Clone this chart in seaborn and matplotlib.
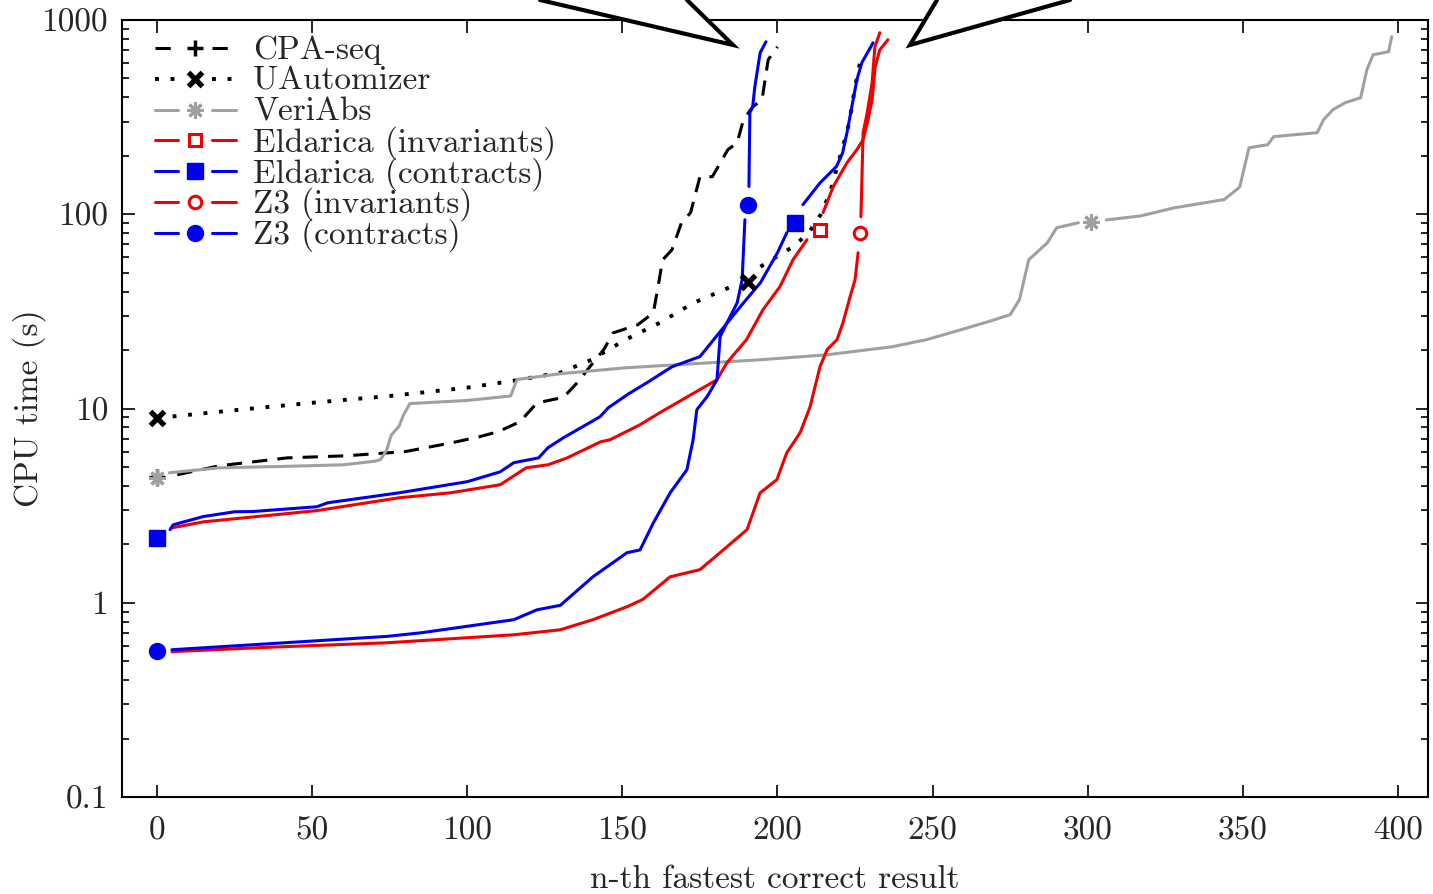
import numpy as np
import matplotlib
matplotlib.use('Agg')
import matplotlib.pyplot as plt
from matplotlib.lines import Line2D
from matplotlib.patches import Polygon
from matplotlib.ticker import FixedLocator, NullFormatter, NullLocator
import seaborn as sns

# n-th fastest correct result / CPU time (s)
cpa_n = [0, 6.5, 20, 42, 61, 80, 95, 104, 110, 117, 122.5, 131, 135.5, 139.5, 144, 147, 155, 160, 161.5, 163,
         166, 169, 172, 175, 179, 184, 187, 189, 192, 195, 197, 200]
cpa_t = [4.45, 4.56, 5.07, 5.57, 5.71, 6.0, 6.66, 7.16, 7.6, 8.55, 10.7, 11.4, 13.6, 16.4, 20.1, 24.5, 27, 31.1, 42.4, 58.3,
         65.7, 90, 102, 156, 156, 215, 233, 306, 357, 388, 624, 728]

uauto_n = [0, 5, 25, 50, 75, 100, 115, 130, 140, 151, 162, 173, 184.5, 190.5, 194.5, 205, 210, 214, 217, 219, 221, 223, 225, 227]
uauto_t = [8.9, 9.1, 9.8, 10.7, 11.6, 12.8, 13.9, 15.3, 17.8, 22.6, 27.6, 35, 42, 45, 53.7, 68, 80, 100, 130, 170, 220, 290, 450, 650]

veri_n = [0, 4, 20, 40, 60, 70, 72, 74, 75.5, 78, 79.5, 81.5, 100, 114, 116, 130, 151, 173, 194, 216, 237,
          248, 259, 268, 275, 278, 281, 287, 290, 297, 301, 306, 317, 328, 344, 349, 352, 358, 360, 374, 376,
          379, 383, 388, 390, 392, 397, 398]
veri_t = [4.4, 4.67, 4.95, 5.03, 5.13, 5.35, 5.45, 6.1, 7.3, 8.1, 9.3, 10.6, 11.0, 11.6, 14.1, 15.1, 16.2, 17.0, 17.8, 18.9, 20.8,
          22.6, 25.4, 28, 30.4, 36.3, 58.3, 71.3, 85.2, 90.4, 91.5, 93.5, 98, 108, 119, 138, 220, 228, 251, 263, 306,
          345, 375, 398, 555, 662, 687, 820]

eld_inv_n = [0, 4.8, 15, 51.5, 78, 94.5, 110.6, 119, 126, 132, 143, 146, 155.7, 162, 171, 180.5, 183.7, 190, 195.3, 200.8, 205,
             209.5, 213.7, 214.7, 218, 222.4, 225.6, 227.6, 229.2, 230.5, 231.5, 233, 235.6]
eld_inv_t = [2.16, 2.43, 2.61, 2.98, 3.47, 3.68, 4.05, 4.95, 5.13, 5.55, 6.74, 6.9, 8.25, 9.5, 11.5, 14.06, 17.2, 22.6, 32.2, 42.4,
             58.3, 73.9, 83.2, 102, 139, 184, 215, 242, 306, 388, 575, 703, 791]

eld_con_n = [0, 4.2, 5.2, 15, 25, 31, 51.5, 55, 78, 100, 110.6, 115, 123, 126, 131, 142.8, 145.5, 152, 158, 166, 175, 182,
             188, 194.5, 200, 203, 205.6, 208.2, 213.7, 219, 221, 222.4, 225.6, 227.2, 230.8]
eld_con_t = [2.16, 2.38, 2.52, 2.78, 2.94, 2.95, 3.12, 3.27, 3.68, 4.2, 4.72, 5.26, 5.57, 6.28, 7.07, 9.07, 10.1, 11.9, 13.6, 16.4,
             18.5, 25.4, 33.4, 44.4, 63.4, 80.3, 90, 112, 145, 176, 207, 263, 493, 603, 763]

z3_inv_n = [0, 4.8, 36, 74, 115, 130, 140.5, 151.5, 156.6, 165.4, 175, 183.7, 190.2, 194.4, 199.8, 203, 207.3, 210.5, 213.7, 216,
            219.2, 221.1, 223.4, 225, 226, 226.6, 226.9, 227.6, 228.8, 230.5, 231.4, 233]
z3_inv_t = [0.566, 0.56, 0.59, 0.622, 0.684, 0.726, 0.818, 0.954, 1.04, 1.36, 1.48, 1.94, 2.38, 3.68, 4.3, 5.92, 7.5, 10.2, 16.4, 20.1,
            22.6, 27.6, 37.6, 46, 63.4, 80.3, 97, 263, 325, 475, 728, 860]

z3_con_n = [0, 4.8, 36, 74, 85, 115, 122.5, 130, 140.5, 151.5, 155.7, 160, 165.4, 170.8, 172.8, 174, 177.3, 180.5, 181.5, 183.7,
            187, 188.6, 189.5, 190.5, 190.8, 191.1, 192, 192.7, 194.4, 196.3]
z3_con_t = [0.566, 0.573, 0.615, 0.671, 0.70, 0.818, 0.92, 0.97, 1.36, 1.81, 1.87, 2.58, 3.68, 4.84, 6.9, 9.86, 11.5, 14.06, 23.4, 27.6,
            35, 46, 93.7, 111, 139, 333, 357, 453, 678, 773]

labels = ['CPA-seq', 'UAutomizer', 'VeriAbs', 'Eldarica (invariants)', 'Eldarica (contracts)',
          'Z3 (invariants)', 'Z3 (contracts)']
y_ticks = [0.1, 1, 10, 100, 1000]
y_ticklabels = ['0.1', '1', '10', '100', '1000']
x_ticks = [0, 50, 100, 150, 200, 250, 300, 350, 400]

RED = '#f00000'
BLUE = '#0000f0'
GRAY = '#a0a0a0'

# n, t, indices with a point symbol, colour, linestyle, width, marker, size, face, edge width
series = [
    (cpa_n, cpa_t, [0], 'black', (0, (5, 3.3)), 2.2, '+', 11, 'black', 2.5),
    (uauto_n, uauto_t, [0, 13], 'black', (0, (1, 3)), 2.8, 'x', 10, 'black', 3.8),
    (veri_n, veri_t, [0, 30], GRAY, '-', 2.2, (8, 2, 0), 12, GRAY, 2.2),
    (eld_inv_n, eld_inv_t, [0, 22], RED, '-', 2.2, 's', 9, 'none', 2.2),
    (eld_con_n, eld_con_t, [0, 26], BLUE, '-', 2.2, 's', 11.5, BLUE, 1),
    (z3_inv_n, z3_inv_t, [0, 25], RED, '-', 2.2, 'o', 9, 'none', 2.2),
    (z3_con_n, z3_con_t, [0, 23], BLUE, '-', 2.2, 'o', 11.5, BLUE, 1),
]

sns.set_style('ticks')
plt.rcParams['font.family'] = ['cmr10', 'DejaVu Serif']
plt.rcParams['axes.formatter.use_mathtext'] = True
plt.rcParams['mathtext.fontset'] = 'cm'
FS = 24

W, H = 1433, 894
L, R, T, B = 122, 1428, 20, 797
fig = plt.figure(figsize=(W / 100, H / 100), dpi=100)
ax = fig.add_axes([L / W, 1 - B / H, (R - L) / W, (B - T) / H])
ax.set_yscale('log')


def axp(x, y):
    # picture pixel -> axes fraction, for the key
    return (x - L) / (R - L), 1 - (y - T) / (B - T)


for i, (n, t, marks, color, ls, lw, marker, ms, mfc, mew) in enumerate(series):
    n = np.asarray(n, dtype=float)
    t = np.asarray(t, dtype=float)
    # the line leaves a gap around each point symbol, as gnuplot does
    start = 0
    parts = []
    for m in marks:
        if m > start:
            parts.append((start, m))
        start = m + 1
    parts.append((start, len(n)))
    for a, b in parts:
        if b - a >= 2:
            sns.lineplot(x=n[a:b], y=t[a:b], ax=ax, color=color, linestyle=ls, linewidth=lw,
                         estimator=None, sort=False, legend=False)
    ax.plot(n[marks], t[marks], linestyle='none', marker=marker, ms=ms, mfc=mfc, mec=color,
            mew=mew, clip_on=False, zorder=3)

    # key entry: line - symbol - line, then the label
    row = 48 + 30.8 * i
    for x0, x1 in ((155, 178), (212, 236)):
        p0, p1 = axp(x0, row), axp(x1, row)
        ax.plot([p0[0], p1[0]], [p0[1], p1[1]], transform=ax.transAxes, color=color,
                linestyle=ls, linewidth=lw, clip_on=False)
    mx, my = axp(195, row)
    ax.plot([mx], [my], transform=ax.transAxes, linestyle='none', marker=marker, ms=ms, mfc=mfc,
            mec=color, mew=mew, clip_on=False)
    tx, ty = axp(253, row + 11)
    ax.text(tx, ty, labels[i], transform=ax.transAxes, fontsize=FS, ha='left', va='baseline')

ax.set_xlim(-11.3, 409.7)
ax.set_ylim(0.1, 1000)
ax.xaxis.set_major_locator(FixedLocator(x_ticks))
ax.xaxis.set_minor_locator(NullLocator())
ax.set_xticklabels([str(x) for x in x_ticks])
ax.yaxis.set_major_locator(FixedLocator(y_ticks))
ax.set_yticklabels(y_ticklabels)
ax.yaxis.set_minor_locator(FixedLocator([m * 10.0 ** e for e in range(-1, 3) for m in range(2, 10)]))
ax.yaxis.set_minor_formatter(NullFormatter())

for s in ax.spines.values():
    s.set_linewidth(1.5)
    s.set_color('black')
ax.tick_params(which='both', direction='in', top=True, right=True, width=1.2, color='black')
ax.tick_params(which='major', length=9, labelsize=FS)
ax.tick_params(which='minor', length=5)
ax.tick_params(axis='x', pad=14)
ax.tick_params(axis='y', pad=10)

ax.set_xlabel('n-th fastest correct result', fontsize=FS, labelpad=14)
ax.set_ylabel('CPU time (s)', fontsize=FS, va='center')
ax.yaxis.set_label_coords(axp(29, 0)[0], 0.5)


# the two speech-bubble tips that reach into the plot from above
def fpt(x, y):
    return (x / W, 1 - y / H)


for tip in ([(540, 0), (733, 45), (687, 0)], [(937, 0), (910, 45), (1070, 0)]):
    pts = [fpt(x, y) for x, y in tip]
    fig.add_artist(Polygon(pts + [fpt(tip[2][0], -5), fpt(tip[0][0], -5)], closed=True,
                           transform=fig.transFigure, facecolor='white', edgecolor='none', zorder=5))
    fig.add_artist(Line2D([p[0] for p in pts], [p[1] for p in pts], transform=fig.transFigure,
                          color='black', linewidth=3, solid_joinstyle='miter', zorder=6))

fig.savefig('out.png', dpi=100)
